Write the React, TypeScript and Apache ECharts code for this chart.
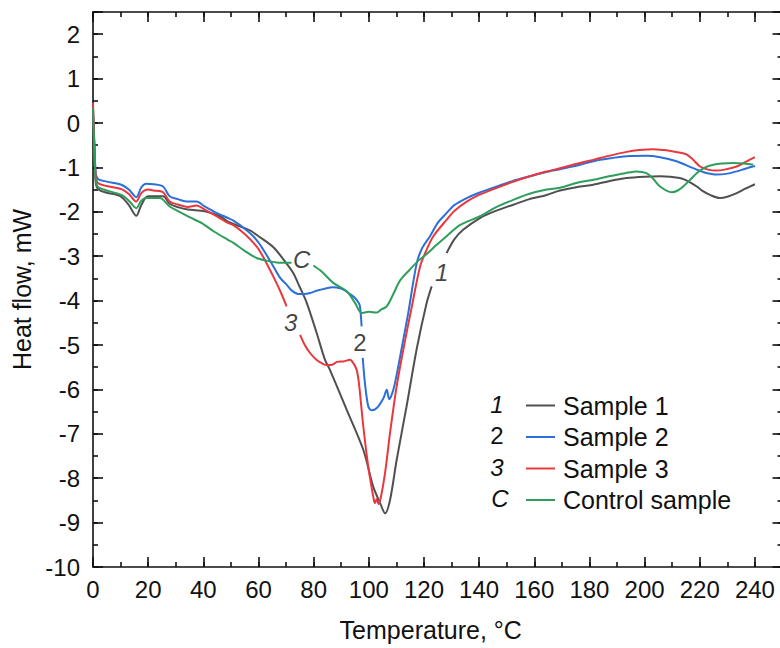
import React, { useEffect, useRef } from "react";
import * as echarts from "echarts";

// ---- Data (temperature °C, heat flow mW); null = gap where the curve label sits ----
const sample1: [number, number | null][] = [
  [0, 0.2], [0.5, -0.6], [1, -1.35], [2, -1.5], [5, -1.57], [10, -1.65], [13, -1.85], [15.7, -2.09],
  [17.5, -1.85], [19.9, -1.65], [25.4, -1.65], [27.8, -1.82], [31, -1.9], [34.4, -1.95], [40.5, -1.99],
  [46, -2.1], [48.9, -2.22], [52, -2.3], [56.9, -2.42], [60, -2.55], [65.4, -2.8], [70, -3.15],
  [72.6, -3.38], [75, -3.7], [77.5, -4.05], [81.1, -4.73], [84.1, -5.33], [85.9, -5.56], [92, -6.46],
  [98, -7.36], [101.6, -8.19], [104.1, -8.56], [105.9, -8.79], [107.7, -8.49], [110.1, -7.59],
  [113.7, -6.38], [117.4, -5.08], [121, -4.05], [122.8, -3.68], [125.5, null], [128.2, -2.93],
  [131, -2.62], [134.3, -2.4], [140.3, -2.14], [146, -1.98], [152.4, -1.84], [158, -1.72],
  [164.5, -1.62], [169.3, -1.52], [176.6, -1.43], [181.4, -1.39], [187, -1.31], [193.5, -1.24],
  [200, -1.21], [205.6, -1.2], [212.8, -1.24], [216, -1.32], [218.9, -1.43], [221, -1.53],
  [223.7, -1.62], [227.3, -1.69], [230, -1.66], [233.4, -1.58], [236.5, -1.48], [240, -1.38],
];

const sample2: [number, number | null][] = [
  [0, 0.3], [0.5, -0.5], [1, -1.12], [1.8, -1.26], [5, -1.32], [10.3, -1.39], [13, -1.5], [15.7, -1.67],
  [17.5, -1.45], [19.3, -1.37], [22, -1.38], [25.4, -1.43], [27.8, -1.65], [31, -1.72], [34.4, -1.77],
  [37.5, -1.77], [40.5, -1.88], [44, -2.0], [48.9, -2.14], [50.9, -2.2], [55, -2.38], [58.1, -2.55],
  [61, -2.78], [65.4, -3.23], [68, -3.5], [70.2, -3.64], [72, -3.77], [74.4, -3.85], [76.5, -3.85],
  [78.7, -3.83], [81, -3.78], [84.7, -3.72], [87, -3.7], [89.6, -3.72], [91, -3.76], [92.6, -3.83],
  [95, -3.94], [96.3, -4.05], [96.8, -4.13], [97.4, -4.58], [97.6, null], [97.8, -5.29], [98.6, -5.86],
  [99.8, -6.38], [101, -6.47], [102.9, -6.42], [105.3, -6.2], [106.5, -6.01], [107.4, -6.22],
  [108.9, -6.01], [110.7, -5.48], [112.5, -4.88], [114.3, -4.28], [117.4, -3.15], [119.5, -2.8],
  [122.2, -2.55], [125, -2.25], [128.2, -2.03], [131, -1.85], [135.5, -1.69], [140, -1.57],
  [146.4, -1.43], [152, -1.31], [158.4, -1.2], [164, -1.11], [169.3, -1.04], [176.6, -0.94],
  [181.4, -0.86], [187, -0.8], [193.5, -0.75], [200.7, -0.74], [205.6, -0.77], [211.6, -0.86],
  [215, -0.95], [218.9, -1.05], [222, -1.12], [226.1, -1.16], [230, -1.14], [233.4, -1.09],
  [236.5, -1.03], [240, -0.97],
];

const sample3: [number, number | null][] = [
  [0, 0.45], [0.5, -0.5], [1, -1.2], [1.8, -1.35], [5, -1.42], [10.3, -1.49], [13, -1.6], [15.7, -1.77],
  [17.5, -1.58], [19.9, -1.5], [22, -1.52], [25.4, -1.56], [27.8, -1.77], [31, -1.84], [34.4, -1.89],
  [37.5, -1.86], [40.5, -1.95], [44, -2.07], [48.9, -2.25], [50.9, -2.3], [55, -2.5], [59.3, -2.78],
  [62, -3.05], [65.4, -3.46], [68, -3.8], [70.2, -4.13], [72.5, null], [75.1, -4.77], [76.8, -5.0],
  [78.7, -5.18], [80.8, -5.32], [82.9, -5.41], [84.5, -5.45], [86.5, -5.45], [88.5, -5.38],
  [90.8, -5.37], [93.2, -5.33], [94.5, -5.42], [95.6, -5.56], [96.3, -5.8], [96.8, -6.08], [98, -6.83],
  [99.8, -7.74], [101, -8.2], [101.6, -8.41], [102.2, -8.56], [102.9, -8.47], [103.5, -8.58],
  [104.3, -8.45], [105.9, -7.88], [107.7, -6.98], [110.1, -5.93], [113.2, -4.88], [115.4, -4.2],
  [118.6, -3.23], [121, -2.85], [123.4, -2.55], [128.2, -2.18], [131, -1.98], [135.5, -1.77],
  [140, -1.62], [146.4, -1.46], [152, -1.33], [158.4, -1.2], [164, -1.1], [169.3, -1.02],
  [176.6, -0.9], [181.4, -0.83], [187, -0.74], [193.5, -0.65], [198, -0.61], [203.2, -0.59],
  [207, -0.61], [210.4, -0.64], [213, -0.67], [215.3, -0.71], [217.5, -0.82], [220.1, -0.98],
  [223, -1.05], [226.1, -1.07], [229, -1.05], [233.4, -0.98], [236.5, -0.88], [240, -0.77],
];

const control: [number, number | null][] = [
  [0, 0.35], [0.5, -0.6], [1, -1.3], [1.8, -1.44], [5, -1.52], [10.3, -1.62], [13, -1.75], [15.7, -1.92],
  [17.5, -1.75], [19.3, -1.69], [24.2, -1.69], [27.8, -1.88], [31, -1.99], [35, -2.12], [39.3, -2.25],
  [44, -2.45], [48.9, -2.63], [50.9, -2.7], [55, -2.88], [59.3, -3.04], [63, -3.1], [66.6, -3.14],
  [72, -3.15], [76, null], [79.9, -3.21], [83, -3.35], [87.1, -3.6], [92, -3.79], [95, -4.05],
  [97.4, -4.28], [100, -4.25], [102.9, -4.27], [104.5, -4.2], [106.5, -4.13], [108.9, -3.85],
  [111.3, -3.55], [114.9, -3.3], [118, -3.1], [121, -2.95], [124.5, -2.75], [128.2, -2.55],
  [133, -2.3], [140.3, -2.1], [146, -1.9], [152.4, -1.73], [158, -1.6], [164.5, -1.5], [169.3, -1.46],
  [176.6, -1.33], [181.4, -1.28], [187, -1.2], [193, -1.13], [197.1, -1.09], [200.7, -1.13],
  [203, -1.25], [205.6, -1.43], [209.8, -1.56], [212, -1.52], [214, -1.43], [216.5, -1.28],
  [218.9, -1.13], [222, -1.0], [224.9, -0.94], [228, -0.91], [232.2, -0.9], [236, -0.91], [239.4, -0.94],
];

const seriesNames = ["Sample 1", "Sample 2", "Sample 3", "Control sample"];
const seriesColors = ["#505050", "#2b6fd8", "#e8383d", "#2e9e5b"];
const legendTags = ["1", "2", "3", "C"];
const legendTagItalic = [true, false, true, true];

// curve labels: [temperature, heat flow, text, italic]
const curveLabels: [number, number, string, boolean][] = [
  [75.7, -3.08, "C", true],
  [71.7, -4.5, "3", true],
  [96.8, -4.95, "2", false],
  [126.4, -3.37, "1", true],
];

const X_MIN = 0;
const X_MAX = 250;
const Y_MIN = -10;
const Y_MAX = 2.5;

const FONT = "'Liberation Sans', Arial, Helvetica, sans-serif";
const INK = "#111";

export default function App() {
  const ref = useRef<HTMLDivElement>(null);

  useEffect(() => {
    if (!ref.current) return;
    const chart = echarts.init(ref.current, null, { renderer: "svg" });

    const axisLine = { show: true, onZero: false, lineStyle: { color: INK, width: 1.6 } };
    const hiddenLine = { show: false, onZero: false };

    const xMajor = (pos: "bottom" | "top", labels: boolean, extra: any = {}) => ({
      type: "value",
      position: pos,
      min: X_MIN,
      max: X_MAX,
      interval: 20,
      axisLine,
      splitLine: { show: false },
      axisTick: { show: true, inside: true, length: 10, lineStyle: { color: INK, width: 1.6 } },
      axisLabel: labels
        ? {
            show: true,
            margin: 10,
            fontSize: 24,
            fontFamily: FONT,
            color: INK,
            formatter: (v: number) => (v <= 240 && v % 20 === 0 ? String(v) : ""),
          }
        : { show: false },
      ...extra,
    });
    const xMinor = (pos: "bottom" | "top") => ({
      type: "value",
      position: pos,
      min: X_MIN,
      max: X_MAX,
      interval: 10,
      axisLine: hiddenLine,
      splitLine: { show: false },
      axisTick: { show: true, inside: true, length: 5, lineStyle: { color: INK, width: 1.6 } },
      axisLabel: { show: false },
    });
    const yMajor = (pos: "left" | "right", labels: boolean, extra: any = {}) => ({
      type: "value",
      position: pos,
      min: Y_MIN,
      max: Y_MAX,
      interval: 1,
      axisLine,
      splitLine: { show: false },
      axisTick: { show: true, inside: true, length: 10, lineStyle: { color: INK, width: 1.6 } },
      axisLabel: labels
        ? {
            show: true,
            margin: 13,
            fontSize: 24,
            fontFamily: FONT,
            color: INK,
            formatter: (v: number) => (Number.isInteger(v) ? String(v) : ""),
          }
        : { show: false },
      ...extra,
    });
    const yMinor = (pos: "left" | "right") => ({
      type: "value",
      position: pos,
      min: Y_MIN,
      max: Y_MAX,
      interval: 0.5,
      axisLine: hiddenLine,
      splitLine: { show: false },
      axisTick: { show: true, inside: true, length: 5, lineStyle: { color: INK, width: 1.6 } },
      axisLabel: { show: false },
    });

    const datasets = [sample1, sample2, sample3, control];

    const lineSeries = datasets.map((d, i) => ({
      name: seriesNames[i],
      type: "line",
      xAxisIndex: 0,
      yAxisIndex: 0,
      data: d,
      showSymbol: false,
      symbol: "none",
      connectNulls: false,
      smooth: 0.3,
      lineStyle: { color: seriesColors[i], width: 2 },
      itemStyle: { color: seriesColors[i] },
      z: i === 0 ? 2 : 3,
    }));

    const labelSeries = {
      name: "curve labels",
      type: "scatter",
      xAxisIndex: 0,
      yAxisIndex: 0,
      symbolSize: 0,
      silent: true,
      z: 5,
      data: curveLabels.map(([x, y, t, it]) => ({
        value: [x, y],
        label: { formatter: t, fontStyle: it ? "italic" : "normal" },
      })),
      label: {
        show: true,
        position: "inside",
        fontSize: 24,
        fontFamily: FONT,
        color: INK,
      },
    };

    const rowY = [404, 435.5, 467, 498];
    const graphics = legendTags.map((t, i) => ({
      type: "text",
      x: t === "C" ? 500 : 497,
      y: rowY[i],
      style: {
        text: t,
        fontSize: 24,
        fontFamily: FONT,
        fontStyle: legendTagItalic[i] ? "italic" : "normal",
        fill: INK,
        textAlign: "center",
        textVerticalAlign: "middle",
      },
    }));

    chart.setOption({
      animation: false,
      backgroundColor: "#ffffff",
      grid: {
        left: 93,
        top: 12,
        width: 689.5,
        height: 555,
        containLabel: false,
        outerBoundsMode: "none",
      },
      xAxis: [
        xMajor("bottom", true, {
          name: "Temperature, °C",
          nameLocation: "middle",
          nameGap: 50,
          nameTextStyle: { fontSize: 25, fontFamily: FONT, color: INK, padding: [0, 14, 0, 0] },
        }),
        xMinor("bottom"),
        xMajor("top", false),
        xMinor("top"),
      ],
      yAxis: [
        yMajor("left", true, {
          name: "Heat flow, mW",
          nameLocation: "middle",
          nameGap: 58,
          nameRotate: 90,
          nameTextStyle: { fontSize: 25, fontFamily: FONT, color: INK },
        }),
        yMinor("left"),
        yMajor("right", false),
        yMinor("right"),
      ],
      legend: {
        data: seriesNames,
        orient: "vertical",
        left: 521,
        top: 388,
        itemWidth: 29,
        itemHeight: 2,
        itemGap: 6.5,
        icon: "rect",
        textStyle: { fontSize: 25, fontFamily: FONT, color: INK, padding: [0, 0, 0, 3] },
        selectedMode: false,
      },
      graphic: graphics,
      series: [...lineSeries, labelSeries],
    });

    return () => chart.dispose();
  }, []);

  return (
    <div style={{ position: "absolute", left: 0, top: 0, width: 780, height: 648, overflow: "hidden", background: "#fff" }}>
      <div ref={ref} style={{ width: 800, height: 648 }} />
    </div>
  );
}
